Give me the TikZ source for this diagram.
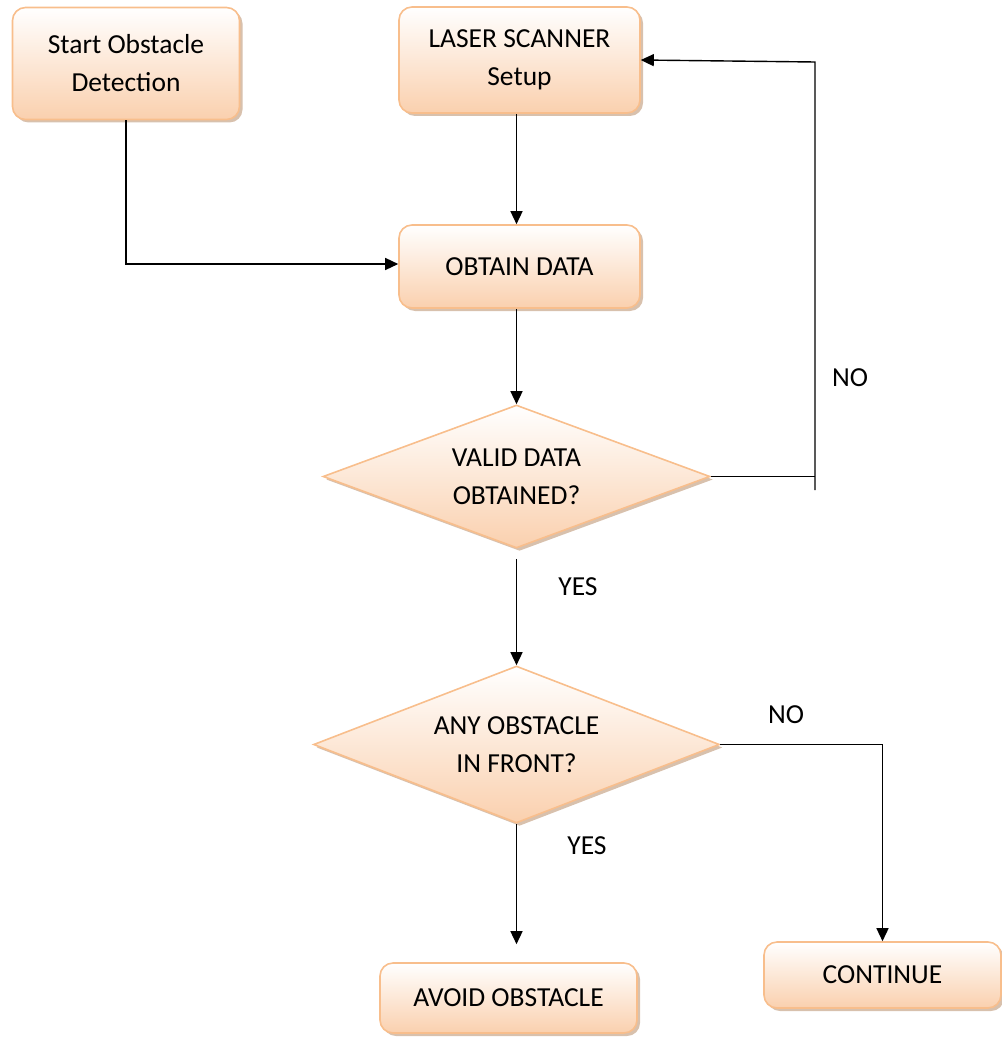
\documentclass[tikz,border=0pt]{standalone}
\usepackage{fontspec}
\setmainfont{Carlito}
\usetikzlibrary{arrows.meta,shapes.geometric,shadows}
\definecolor{edgeor}{HTML}{F8BE8C}
\definecolor{peach}{HTML}{FAD0AE}
\definecolor{shad}{HTML}{C8A68A}
\tikzset{
  base/.style={draw=edgeor, line width=1.6pt, top color=white, bottom color=peach,
    font=\fontsize{27.5}{38}\selectfont, align=center, inner sep=0pt,
    drop shadow={shadow xshift=3pt, shadow yshift=-3pt, fill=shad, opacity=0.7}},
  box/.style={base, rectangle, rounded corners=13pt},
  dia/.style={base, diamond, shape aspect=2.7},
  arr/.style={line width=1.4pt, -{Triangle[length=13pt,width=12pt]}},
  ln/.style={line width=1.4pt},
  lbl/.style={font=\fontsize{27.5}{38}\selectfont, inner sep=0pt}
}
\begin{document}
\begin{tikzpicture}[x=1pt,y=-1pt]
\useasboundingbox (0,0) rectangle (1001,1038);
\node[box, minimum width=227pt, minimum height=112pt] (start) at (126,63.5) {Start Obstacle\\Detection};
\node[box, minimum width=241pt, minimum height=106pt] (laser) at (519.5,60) {LASER SCANNER\\Setup};
\node[box, minimum width=241pt, minimum height=83pt] (obtain) at (519.5,266.5) {OBTAIN DATA};
\node[dia, minimum width=387pt, minimum height=143pt] (valid) at (516.5,476.5) {VALID DATA\\OBTAINED?};
\node[dia, minimum width=406pt, minimum height=157pt] (any) at (516.5,744.5) {ANY OBSTACLE\\IN FRONT?};
\node[box, minimum width=257pt, minimum height=70pt] (avoid) at (508.5,998) {AVOID OBSTACLE};
\node[box, minimum width=237pt, minimum height=66pt] (cont) at (882.5,975) {CONTINUE};

\coordinate (nr) at (815,62);
\coordinate (nb) at (815,490);

\draw[ln] (start.south) -- ++(0,145);
\draw[arr] (start.south |- 0,264) -- (obtain.west |- 0,264);
\draw[arr] (laser.south -| valid.north) -- (obtain.north -| valid.north);
\draw[arr] (obtain.south -| valid.north) -- (valid.north);
\draw[ln] (valid.east) -- (valid.east -| nr);
\draw[arr] (nb) -- (nr) -- (laser.east);
\draw[arr] (valid.south) ++(0,10) -- (any.north);
\draw[arr] (any.east) -| (cont.north);
\draw[arr, shorten >=18pt] (any.south) -- (any.south |- avoid.north);

\node[lbl] (no1) at (850,378) {NO};
\node[lbl] (yes1) at (578,587) {YES};
\node[lbl] (no2) at (786,715) {NO};
\node[lbl] (yes2) at (587,846) {YES};
\end{tikzpicture}
\end{document}
